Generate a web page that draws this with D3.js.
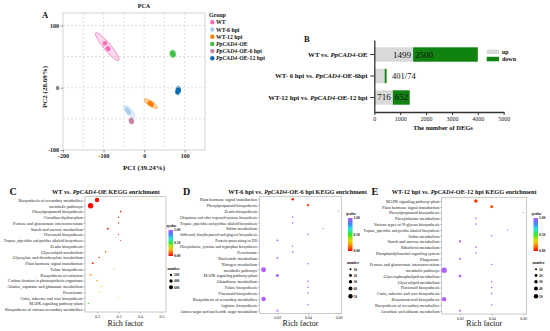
<!DOCTYPE html>
<html lang="en">
<head>
<meta charset="UTF-8">
<title>PCA, DEGs and KEGG enrichment</title>
<script src="https://d3js.org/d3.v7.min.js"></script>
<style>
  body { margin: 0; background: #fff; }
  svg { display: block; }
</style>
</head>
<body>
<svg id="fig" width="550" height="331"></svg>
<script>
// ---------- data ----------
// A: PCA (three replicates per group)
const pcaGroups = ["WT", "WT-6 hpi", "WT-12 hpi", "*PpCAD4*-OE", "*PpCAD4*-OE-6 hpi", "*PpCAD4*-OE-12 hpi"];
const pcaColors = ["#f36bb8", "#a9cdee", "#ff8000", "#3fbf3f", "#c683a9", "#0a6cb4"];
const pc1 = [[-96.8, -89.5, -88], [-39.8, -36.6, -42.3], [13, 18.7, 16.3], [70, 69.5, 71.7], [-31.7, -32.5, -30], [83.7, 82, 85.4]];
const pc2 = [[71.4, 63.4, 62], [-37.9, -40, -35], [-24.6, -27.3, -25.6], [54.4, 56, 53], [-53.4, -52.3, -54.5], [-3.2, -7, -4.3]];
// confidence ellipses (data units): centre, semi-axes, angle in degrees
const ellCx = [-91, -36.6, 16.6, 70.5, -31.5, 83.7];
const ellCy = [66, -38.4, -25.6, 54.5, -53.4, -4.5];
const ellA = [36, 15, 17, 7, 5, 7];
const ellB = [7, 5.5, 4.2, 6, 5, 5.5];
const ellAngle = [-37, -35, -22, 0, 0, 70];
const pcaXTicks = [-200, -100, 0, 100];
const pcaYTicks = [-100, 0, 100];

// B: number of DEGs
const degComps = ["WT vs. *PpCAD4*-OE", "WT- 6 hpi vs. *PpCAD4*-OE-6hpi", "WT-12 hpi vs. *PpCAD4*-OE-12 hpi"];
const degUp = [1499, 401, 716];
const degDown = [2500, 74, 652];
const degTicks = [0, 1000, 2000, 3000, 4000, 5000];

// C: WT vs. PpCAD4-OE
const cTerms = ["Biosynthesis of secondary metabolites", "metabolic pathways", "Phenylpropanoid biosynthesis",
  "Circadian rhythm-plant", "Pentose and glucuronate interconversions", "Starch and sucrose metabolism",
  "Flavonoid biosynthesis", "Tropane, piperidine and pyridine alkaloid biosynthesis", "Zeatin biosynthesis",
  "Glycerolipid metabolism", "Glyoxylate and dicarboxylate metabolism", "Plant hormone signal transduction",
  "Folate biosynthesis", "Biosynthesis of cofactors", "Carbon fixation in photosynthetic organisms",
  "Alanine, aspartate and glutamate metabolism", "Peroxisome", "Cutin, suberine and wax biosynthesis",
  "MAPK signaling pathway-plant", "Biosynthesis of various secondary metabolites"];
const cRich = [0.20, 0.17, 0.31, 0.30, 0.30, 0.25, 0.30, 0.31, 0.50, 0.24, 0.21, 0.18, 0.28, 0.17, 0.20, 0.22, 0.21, 0.30, 0.16, 0.37];
const cQ = [0.01, 0.01, 0.02, 0.02, 0.02, 0.02, 0.02, 0.03, 0.03, 0.04, 0.04, 0.06, 0.16, 0.14, 0.22, 0.3, 0.38, 0.42, 0.47, 0.57];
const cNum = [720, 1090, 110, 60, 70, 120, 60, 50, 20, 70, 75, 150, 40, 110, 85, 60, 65, 40, 100, 30];
const cTicks = [0.2, 0.3, 0.4, 0.5];
const cSizeLegend = [200, 400, 600];

// D: WT-6 hpi vs. PpCAD4-OE-6 hpi
const dTerms = ["Plant hormone signal transduction", "Phenylpropanoid biosynthesis", "Zeatin biosynthesis",
  "Ubiquinone and other terpenoid-quinone biosynthesis", "Tropane, piperidine and pyridine alkaloid biosynthesis",
  "Sulfur metabolism", "Stilbenoid, diarylheptanoid and gingerol biosynthesis", "Protein processing in ER",
  "Phenylalanine, tyrosine and tryptophan biosynthesis", "Peroxisome", "Nucleotide metabolism",
  "Nitrogen metabolism", "metabolic pathways", "MAPK signaling pathway-plant", "Glutathione metabolism",
  "Folate biosynthesis", "Flavonoid biosynthesis", "Biosynthesis of secondary metabolites",
  "Arginine biosynthesis", "Amino sugar and nucleotide sugar metabolism"];
const dRich = [0.03, 0.04, 0.06, 0.03, 0.03, 0.05, 0.04, 0.02, 0.03, 0.03, 0.02, 0.04, 0.011, 0.02, 0.04, 0.04, 0.04, 0.011, 0.04, 0.02];
const dQ = [0.05, 0.08, 1, 1, 1, 1, 1, 1, 1, 1, 1, 1, 1, 1, 1, 1, 1, 1, 1, 1];
const dNum = [18, 14, 3, 6, 6, 5, 6, 9, 7, 7, 9, 6, 64, 23, 6, 6, 6, 50, 6, 9];
const dTicks = [0.02, 0.04, 0.06];
const sizeLegend = [10, 20, 30, 40, 50];

// E: WT-12 hpi vs. PpCAD4-OE-12 hpi
const eTerms = ["MAPK signaling pathway-plant", "Plant hormone signal transduction", "Phenylpropanoid biosynthesis",
  "Phenylalanine metabolism", "Various types of N-glycan biosynthesis",
  "Tropane, piperidine and pyridine alkaloid biosynthesis", "Sulfur metabolism", "Starch and sucrose metabolism",
  "Riboflavin metabolism", "Phosphatidylinositol signaling system", "Phagosome",
  "Pentose and glucuronate interconversions", "metabolic pathways", "Glycerophospholipid metabolism",
  "Glycerolipid metabolism", "Flavonoid biosynthesis", "Cutin, suberine and wax biosynthesis",
  "Brassinosteroid biosynthesis", "Biosynthesis of secondary metabolites", "Ascorbate and aldarate metabolism"];
const eRich = [0.03, 0.04, 0.06, 0.03, 0.03, 0.05, 0.04, 0.02, 0.03, 0.03, 0.02, 0.04, 0.010, 0.02, 0.04, 0.04, 0.04, 0.010, 0.04, 0.02];
const eQ = [0.06, 0.09, 1, 1, 1, 1, 1, 1, 1, 1, 1, 1, 1, 1, 1, 1, 1, 1, 1, 1];
const eNum = [33, 23, 3, 7, 7, 5, 6, 13, 7, 7, 10, 6, 75, 20, 6, 6, 6, 50, 6, 10];
const eTicks = [0.02, 0.04, 0.06];

const qTicks = [1, 0.5, 0];

// ---------- drawing ----------
const SERIF = "'Liberation Serif', 'Times New Roman', serif";
const svg = d3.select("#fig").attr("font-family", SERIF);
svg.append("rect").attr("width", 550).attr("height", 331).attr("fill", "#fff");

// "*...*" marks italic parts
function rich(sel, str) {
  str.split("*").forEach((p, i) => {
    if (p) sel.append("tspan").attr("font-style", i % 2 ? "italic" : null).text(p);
  });
  return sel;
}

function label(x, y, txt, size, weight, anchor) {
  return rich(svg.append("text").attr("x", x).attr("y", y).attr("font-size", size)
    .attr("font-weight", weight || null).attr("text-anchor", anchor || "start").attr("fill", "#111"), txt);
}

// ---- A: PCA ----
const ax = d3.scaleLinear().domain([-200, 150]).range([63, 205]);
const ay = d3.scaleLinear().domain([-100, 120]).range([150, 13]);
const gA = svg.append("g");
gA.append("rect").attr("x", 63).attr("y", 13).attr("width", 142).attr("height", 137)
  .attr("fill", "#fff").attr("stroke", "#c8c8c8").attr("stroke-width", 0.8);
gA.selectAll("line.gx").data(d3.range(-150, 150, 50)).join("line")
  .attr("x1", d => ax(d)).attr("x2", d => ax(d)).attr("y1", ay(120)).attr("y2", ay(-100))
  .attr("stroke", "#d0d0d0").attr("stroke-width", 0.7).attr("stroke-dasharray", "2,2");
gA.selectAll("line.gy").data([-50, 0, 50, 100]).join("line")
  .attr("y1", d => ay(d)).attr("y2", d => ay(d)).attr("x1", ax(-200)).attr("x2", ax(150))
  .attr("stroke", "#d0d0d0").attr("stroke-width", 0.7).attr("stroke-dasharray", "2,2");

const axB = gA.append("g").attr("transform", `translate(0,${ay(-100)})`)
  .call(d3.axisBottom(ax).tickValues(pcaXTicks).tickFormat(d => String(d)).tickSize(2.5).tickPadding(1.5));
const axL = gA.append("g").attr("transform", `translate(${ax(-200)},0)`)
  .call(d3.axisLeft(ay).tickValues(pcaYTicks).tickFormat(d => String(d)).tickSize(2.5).tickPadding(1.5));
[axB, axL].forEach(a => {
  a.attr("font-family", SERIF).attr("font-size", 6).attr("font-weight", "bold");
  a.select(".domain").remove();
  a.selectAll("line").attr("stroke", "#555").attr("stroke-width", 0.6);
  a.selectAll("text").attr("fill", "#222");
});

const ellLine = d3.line().curve(d3.curveLinearClosed);
pcaGroups.forEach((g, i) => {
  const th = ellAngle[i] * Math.PI / 180;
  const pts = d3.range(0, 2 * Math.PI, Math.PI / 40).map(t => {
    const u = ellA[i] * Math.cos(t), v = ellB[i] * Math.sin(t);
    return [ax(ellCx[i] + u * Math.cos(th) - v * Math.sin(th)), ay(ellCy[i] + u * Math.sin(th) + v * Math.cos(th))];
  });
  gA.append("path").attr("d", ellLine(pts)).attr("fill", pcaColors[i]).attr("fill-opacity", 0.25)
    .attr("stroke", pcaColors[i]).attr("stroke-width", 0.8);
  gA.selectAll(null).data(pc1[i]).join("circle")
    .attr("cx", d => ax(d)).attr("cy", (d, j) => ay(pc2[i][j])).attr("r", 2.2).attr("fill", pcaColors[i]);
});

label(144, 7.5, "PCA", 6, "bold", "middle");
label(42, 17.5, "A", 8.5, "bold");
label(144, 169.5, "PC1 (39.24%)", 7, "bold", "middle");
label(0, 0, "PC2 (28.69%)", 7, "bold", "middle").attr("transform", "translate(47,87) rotate(-90)");
label(209, 16.5, "Group", 6, "bold");
const legY = d3.scalePoint().domain(pcaGroups).range([22.3, 58.3]);
pcaGroups.forEach((g, i) => {
  svg.append("circle").attr("cx", 212.3).attr("cy", legY(g)).attr("r", 2.2).attr("fill", pcaColors[i]);
  label(216, legY(g) + 2, g, 5.8, "bold");
});

// ---- B: DEGs ----
const bx = d3.scaleLinear().domain([0, 5000]).range([374.3, 503.7]);
const by = d3.scaleBand().domain(degComps).range([40, 112]).paddingInner(0.33).paddingOuter(0.34);
const gB = svg.append("g");
gB.selectAll("rect.up").data(degComps).join("rect")
  .attr("x", bx(0)).attr("y", d => by(d)).attr("height", by.bandwidth())
  .attr("width", (d, i) => bx(degUp[i]) - bx(0)).attr("fill", "#d9d9d9");
gB.selectAll("rect.down").data(degComps).join("rect")
  .attr("x", (d, i) => bx(degUp[i])).attr("y", d => by(d)).attr("height", by.bandwidth())
  .attr("width", (d, i) => bx(degUp[i] + degDown[i]) - bx(degUp[i])).attr("fill", "#0f820f");
degComps.forEach((d, i) => {
  const yc = by(d) + by.bandwidth() / 2 + 3;
  if (degUp[i] + degDown[i] < 1000) {
    label(bx(degUp[i] + degDown[i]) + 5.5, yc, degUp[i] + "/" + degDown[i], 8.5, null);
  } else {
    label(bx(degUp[i]) - 2, yc, String(degUp[i]), 9, null, "end");
    label(bx(degUp[i]) + 2, yc, String(degDown[i]), 9, null);
  }
});
const bAxX = gB.append("g").attr("transform", `translate(0,${by.range()[1]})`)
  .call(d3.axisBottom(bx).tickValues(degTicks).tickFormat(d => String(d)).tickSize(3).tickSizeOuter(0).tickPadding(1.5));
const bAxY = gB.append("g").attr("transform", `translate(${bx(0)},0)`)
  .call(d3.axisLeft(by).tickFormat(() => "").tickSize(4).tickSizeOuter(0));
[bAxX, bAxY].forEach(a => {
  a.attr("font-family", SERIF).attr("font-size", 6);
  a.select(".domain").attr("stroke", "#333").attr("stroke-width", 1.3);
  a.selectAll("line").attr("stroke", "#333").attr("stroke-width", 1);
  a.selectAll("text").attr("fill", "#222");
});
degComps.forEach(d => label(367.5, by(d) + by.bandwidth() / 2 + 2.3, d, 6.8, "bold", "end"));
label(443, 130, "The number of DEGs", 6.5, "bold", "middle");
label(304, 41.5, "B", 8.5, "bold");
svg.append("rect").attr("x", 486.7).attr("y", 49.5).attr("width", 12.3).attr("height", 4.5).attr("fill", "#d9d9d9");
svg.append("rect").attr("x", 486.7).attr("y", 56.8).attr("width", 12.3).attr("height", 4.5).attr("fill", "#0f820f");
label(502, 53.5, "up", 6, "bold");
label(502, 61, "down", 6, "bold");

// ---- C, D, E: KEGG bubble plots ----
const qColor = d3.scaleLinear().domain([0, 0.17, 0.33, 0.5, 0.67, 0.83, 1])
  .range(["#ff0000", "#ff8c00", "#e4e400", "#2ee82e", "#2ee8e8", "#3d7dff", "#b060ff"]);
const grad = svg.append("defs").append("linearGradient").attr("id", "qgrad")
  .attr("x1", 0).attr("y1", 1).attr("x2", 0).attr("y2", 0);
d3.range(0, 1.001, 0.1).forEach(t => grad.append("stop").attr("offset", t).attr("stop-color", qColor(t)));

function keggPanel(p) {
  const g = svg.append("g");
  const x = d3.scaleLinear().domain(p.xDomain).range([p.x0, p.x1]);
  const y = d3.scalePoint().domain(p.terms).range([p.rowTop, p.rowBottom]);
  const r = d3.scaleSqrt().domain([0, p.sizeMax]).range([0, p.rMax]);
  g.append("rect").attr("x", p.x0).attr("y", p.y0).attr("width", p.x1 - p.x0).attr("height", p.y1 - p.y0)
    .attr("fill", "#fff").attr("stroke", "#b3b3b3").attr("stroke-width", 0.7);
  const ya = g.append("g").attr("transform", `translate(${p.x0},0)`)
    .call(d3.axisLeft(y).tickSize(1.5).tickPadding(0.8));
  const xa = g.append("g").attr("transform", `translate(0,${p.y1})`)
    .call(d3.axisBottom(x).tickValues(p.ticks).tickFormat(d3.format(p.fmt)).tickSize(1.5).tickPadding(1.2));
  [ya, xa].forEach(a => {
    a.attr("font-family", SERIF);
    a.select(".domain").remove();
    a.selectAll("line").attr("stroke", "#666").attr("stroke-width", 0.4);
    a.selectAll("text").attr("fill", "#222");
  });
  ya.attr("font-size", 4.2);
  // squeeze the longest pathway names into the space left of the frame
  ya.selectAll("text").each(function () {
    if (this.getComputedTextLength() > p.maxLabel) {
      d3.select(this).attr("textLength", p.maxLabel).attr("lengthAdjust", "spacingAndGlyphs");
    }
  });
  xa.attr("font-size", 4);
  g.selectAll("circle.dot").data(p.terms).join("circle")
    .attr("cx", (d, i) => x(p.rich[i])).attr("cy", d => y(d))
    .attr("r", (d, i) => r(p.num[i])).attr("fill", (d, i) => qColor(p.q[i]));
  label(p.titleX, 194, p.title, 6.3, "bold");
  label(p.letterX, 195, p.letter, 10, "bold");
  label((p.x0 + p.x1) / 2, 326, "Rich factor", 8, null, "middle");
  // q value legend
  const lg = p.legX;
  label(lg - 2, p.gradTop - 3.5, "qvalue", 3.6, "bold");
  svg.append("rect").attr("x", lg).attr("y", p.gradTop).attr("width", 4.5)
    .attr("height", p.gradBottom - p.gradTop).attr("fill", "url(#qgrad)");
  const qs = d3.scaleLinear().domain([0, 1]).range([p.gradBottom, p.gradTop]);
  qTicks.forEach(t => label(lg + 5.5, qs(t) + 1.3, t.toFixed(2), 3.6, "bold"));
  // size legend
  label(lg - 1, p.sizeY[0] - 5, "number", 3.6, "bold");
  p.sizeLegend.forEach((n, i) => {
    svg.append("circle").attr("cx", lg + 2.5).attr("cy", p.sizeY[i]).attr("r", r(n)).attr("fill", "#000");
    label(lg + 5.5, p.sizeY[i] + 1.3, String(n), 3.6, "bold");
  });
}

keggPanel({ terms: cTerms, rich: cRich, q: cQ, num: cNum, ticks: cTicks, fmt: ".1f", maxLabel: 79,
  xDomain: [0.144, 0.521], x0: 85, x1: 166, y0: 196.7, y1: 312, rowTop: 200, rowBottom: 309.3,
  sizeMax: 600, rMax: 2, sizeLegend: cSizeLegend, sizeY: [275, 281, 287.3],
  title: "WT vs. *PpCAD4*-OE KEGG enrichment", titleX: 52, letter: "C", letterX: 9.5,
  legX: 168.5, gradTop: 230, gradBottom: 256 });

keggPanel({ terms: dTerms, rich: dRich, q: dQ, num: dNum, ticks: dTicks, fmt: ".2f", maxLabel: 77,
  xDomain: [0.0082, 0.062], x0: 259.3, x1: 341.7, y0: 196.7, y1: 313.3, rowTop: 199.3, rowBottom: 310.7,
  sizeMax: 50, rMax: 2.2, sizeLegend: sizeLegend, sizeY: [269.3, 275.5, 281.7, 288.5, 296.3],
  title: "WT-6 hpi vs. *PpCAD4*-OE-6 hpi  KEGG enrichment", titleX: 228.3, letter: "D", letterX: 183,
  legX: 348, gradTop: 218, gradBottom: 251 });

keggPanel({ terms: eTerms, rich: eRich, q: eQ, num: eNum, ticks: eTicks, fmt: ".2f", maxLabel: 76,
  xDomain: [0.00845, 0.0621], x0: 441.7, x1: 526.7, y0: 197.3, y1: 314, rowTop: 201, rowBottom: 310.7,
  sizeMax: 50, rMax: 2.2, sizeLegend: sizeLegend, sizeY: [269.3, 275.5, 281.7, 288.5, 296.3],
  title: "WT-12 hpi vs. *PpCAD4*-OE-12 hpi  KEGG enrichment", titleX: 391.7, letter: "E", letterX: 371.5,
  legX: 533.5, gradTop: 218, gradBottom: 251 });
</script>
</body>
</html>
